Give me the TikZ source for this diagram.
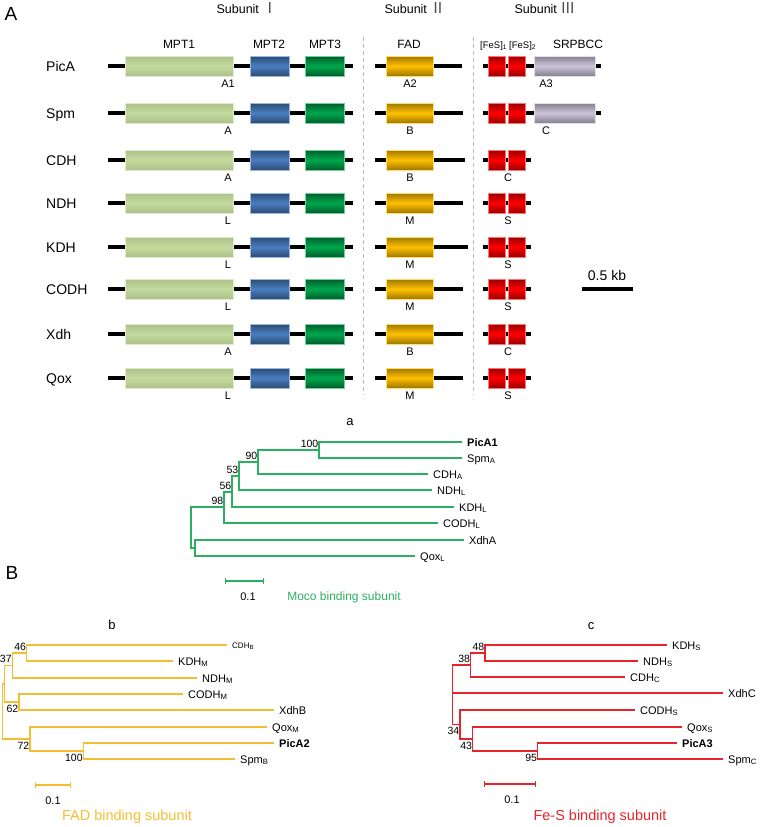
\documentclass[tikz,border=0pt]{standalone}
\usepackage{fontspec}
\setmainfont{Liberation Sans}
\newfontfamily\cjk{Noto Sans CJK SC}
\usetikzlibrary{arrows.meta}

\definecolor{mptlight}{HTML}{C4DB9E}
\definecolor{mptblue}{HTML}{4A7EC0}
\definecolor{mptgreen}{HTML}{00A84E}
\definecolor{fadyellow}{HTML}{FFC000}
\definecolor{fesred}{HTML}{FF0000}
\definecolor{srpbgray}{HTML}{CCC4DA}
\definecolor{mocogreen}{HTML}{2BAF62}
\definecolor{fadorange}{HTML}{F6BD33}
\definecolor{fesline}{HTML}{E8242A}

\newcommand{\subnum}[1]{{\cjk\fontsize{15}{17}\selectfont\color{black!70}#1}}

\tikzset{
  genebox/.style n args={2}{top color=#1!#2!black, bottom color=#1!#2!black,
    middle color=#1, draw=#1!55!white, line width=0.4pt},
  backbone/.style={line width=4pt, black},
  genename/.style={anchor=west, inner sep=0pt, text height=10pt, text depth=0pt,
    font=\fontsize{14}{16}\selectfont},
  domainname/.style={font=\fontsize{12}{14}\selectfont},
  fesname/.style={anchor=base west, inner sep=0pt, font=\fontsize{9.5}{11}\selectfont},
  chainname/.style={font=\fontsize{11}{13}\selectfont},
  subunithead/.style={anchor=base, inner sep=0pt, font=\fontsize{12.5}{15}\selectfont},
  panel/.style={font=\fontsize{19}{22}\selectfont},
  treetitle/.style={font=\fontsize{13}{15}\selectfont},
  treeline/.style={line width=1.5pt},
  leaf/.style={anchor=west, inner xsep=5pt, inner ysep=0pt, text height=8pt,
    text depth=0pt, text=black, font=\fontsize{11}{13}\selectfont},
  boot/.style={inner xsep=0.5pt, inner ysep=2.5pt, text=black,
    font=\fontsize{10.5}{12}\selectfont},
  scalebar/.style={line width=1.3pt, arrows={Bar[width=6pt]-Bar[width=6pt]}},
  scalelabel/.style={text=black, font=\fontsize{11}{13}\selectfont},
  treename/.style={font=\fontsize{14.5}{17}\selectfont}
}

\begin{document}
\begin{tikzpicture}[x=1pt, y=-1pt]
\useasboundingbox (0,0) rectangle (760,827);

% Panel A: domain layout of the three subunits
\node[panel] (panelA) at (11,14) {A};
\node[subunithead] (headI) at (247,13) {Subunit \subnum{Ⅰ}};
\node[subunithead] (headII) at (415,13) {Subunit \subnum{Ⅱ}};
\node[subunithead] (headIII) at (545,13) {Subunit \subnum{Ⅲ}};

\draw[dashed, gray!55, line width=0.9pt, dash pattern=on 4pt off 3pt] (363,37) -- (363,395);
\draw[dashed, gray!55, line width=0.9pt, dash pattern=on 4pt off 3pt] (473,37) -- (473,395);

% Domain names over the first row
\node[domainname] (nameMPT1) at (179,44) {MPT1};
\node[domainname] (nameMPT2) at (269,44) {MPT2};
\node[domainname] (nameMPT3) at (325,44) {MPT3};
\node[domainname] (nameFAD) at (409,44) {FAD};
\node[fesname] (nameFeS1) at (480,48) {[FeS]\textsubscript{1}};
\node[fesname] (nameFeS2) at (509,48) {[FeS]\textsubscript{2}};
\node[domainname] (nameSRP) at (578,44) {SRPBCC};

% One row per enzyme
\foreach \gene/\ypos/\lone/\ltwo/\lthree/\fadend/\longfes in
  {PicA/66/A1/A2/A3/462/1, Spm/113/A/B/C/463/1, CDH/160/A/B/C/465/0,
   NDH/203/L/M/S/463/0, KDH/247/L/M/S/468/0, CODH/289/L/M/S/463/0,
   Xdh/334/A/B/C/463/0, Qox/378/L/M/S/463/0}{
  \pgfmathsetmacro{\fesend}{\longfes==1 ? 601 : 531}
  \pgfmathsetmacro{\labthree}{\longfes==1 ? 546 : 508}
  \node[genename] (gene\gene) at (46,\ypos) {\gene};
  \draw[backbone] (108,\ypos) -- (353,\ypos);
  \draw[backbone] (375,\ypos) -- (\fadend,\ypos);
  \draw[backbone] (483,\ypos) -- (\fesend,\ypos);
  \path[genebox={mptlight}{88}] (125,\ypos-10) rectangle (233,\ypos+10);
  \path[genebox={mptblue}{60}] (250,\ypos-10) rectangle (289,\ypos+10);
  \path[genebox={mptgreen}{55}] (305,\ypos-10) rectangle (344,\ypos+10);
  \path[genebox={fadyellow}{62}] (386,\ypos-10) rectangle (433,\ypos+10);
  \path[genebox={fesred}{60}] (488,\ypos-10) rectangle (505,\ypos+10);
  \path[genebox={fesred}{60}] (508,\ypos-10) rectangle (525,\ypos+10);
  \ifnum\longfes=1
    \path[genebox={srpbgray}{65}] (534,\ypos-10) rectangle (595,\ypos+10);
  \fi
  \node[chainname] (chainI\gene) at (228,\ypos+18) {\lone};
  \node[chainname] (chainII\gene) at (410,\ypos+18) {\ltwo};
  \node[chainname] (chainIII\gene) at (\labthree,\ypos+18) {\lthree};
}

% Scale for the gene layout
\node[font=\fontsize{14}{16}\selectfont] (kbLabel) at (607,275) {0.5 kb};
\draw[backbone] (582,289) -- (633,289);

% Panel B
\node[panel] (panelB) at (12,573) {B};

% Tree a, Moco binding subunit
\node[treetitle] (titleA) at (350,422) {a};
\node[leaf] (taPicA) at (462,442) {\textbf{PicA1}};
\node[leaf] (taSpm) at (462,458) {Spm\textsubscript{A}};
\node[leaf] (taCDH) at (428,474) {CDH\textsubscript{A}};
\node[leaf] (taNDH) at (432,490) {NDH\textsubscript{L}};
\node[leaf] (taKDH) at (454,507) {KDH\textsubscript{L}};
\node[leaf] (taCODH) at (438,523) {CODH\textsubscript{L}};
\node[leaf] (taXdh) at (464,540) {XdhA};
\node[leaf] (taQox) at (415,556) {Qox\textsubscript{L}};
\coordinate (ta100) at (319,450);
\coordinate (ta90) at (258,462);
\coordinate (ta53) at (239,476);
\coordinate (ta56) at (232,492);
\coordinate (ta98) at (224,507);
\coordinate (taXQ) at (195,548);
\coordinate (taRoot) at (191,527.5);
\draw[treeline, mocogreen] (ta100) |- (taPicA.west) (ta100) |- (taSpm.west)
  (ta90) |- (ta100) (ta90) |- (taCDH.west)
  (ta53) |- (ta90) (ta53) |- (taNDH.west)
  (ta56) |- (ta53) (ta56) |- (taKDH.west)
  (ta98) |- (ta56) (ta98) |- (taCODH.west)
  (taXQ) |- (taXdh.west) (taXQ) |- (taQox.west)
  (taRoot) |- (ta98) (taRoot) |- (taXQ);
\node[boot, anchor=south east] (ta100lab) at (ta100) {100};
\node[boot, anchor=south east] (ta90lab) at (ta90) {90};
\node[boot, anchor=south east] (ta53lab) at (ta53) {53};
\node[boot, anchor=south east] (ta56lab) at (ta56) {56};
\node[boot, anchor=south east] (ta98lab) at (ta98) {98};
\coordinate (taBarL) at (225,581);
\coordinate (taBarR) at (264,581);
\draw[scalebar, mocogreen] (taBarL) -- (taBarR);
\node[scalelabel] (taBarLab) at (248,597) {0.1};
\node[text=mocogreen, font=\fontsize{12}{14}\selectfont] (taName) at (344,597) {Moco binding subunit};

% Tree b, FAD binding subunit
\node[treetitle] (titleB) at (112,625) {b};
\node[leaf, font=\fontsize{8}{10}\selectfont, text height=6pt] (tbCDH) at (227,645) {CDH\textsubscript{B}};
\node[leaf] (tbKDH) at (173,661) {KDH\textsubscript{M}};
\node[leaf] (tbNDH) at (197,678) {NDH\textsubscript{M}};
\node[leaf] (tbCODH) at (183,694) {CODH\textsubscript{M}};
\node[leaf] (tbXdh) at (274,710) {XdhB};
\node[leaf] (tbQox) at (267,727) {Qox\textsubscript{M}};
\node[leaf] (tbPicA) at (274,743) {\textbf{PicA2}};
\node[leaf] (tbSpm) at (235,759) {Spm\textsubscript{B}};
\coordinate (tb46) at (26.7,653);
\coordinate (tb37) at (12.3,665.5);
\coordinate (tb62) at (19,702);
\coordinate (tb100) at (83.3,751);
\coordinate (tb72) at (30,739);
\coordinate (tbIn) at (4.5,683.75);
\coordinate (tbRoot) at (2.5,711.4);
\draw[treeline, fadorange] (tb46) |- (tbCDH.west) (tb46) |- (tbKDH.west)
  (tb37) |- (tb46) (tb37) |- (tbNDH.west)
  (tb62) |- (tbCODH.west) (tb62) |- (tbXdh.west)
  (tb100) |- (tbPicA.west) (tb100) |- (tbSpm.west)
  (tb72) |- (tbQox.west) (tb72) |- (tb100)
  (tbIn) |- (tb37) (tbIn) |- (tb62)
  (tbRoot) |- (tbIn) (tbRoot) |- (tb72);
\node[boot, anchor=south east] (tb46lab) at (tb46) {46};
\node[boot, anchor=south east] (tb37lab) at (tb37) {37};
\node[boot, anchor=north east] (tb62lab) at (tb62) {62};
\node[boot, anchor=north east] (tb72lab) at (tb72) {72};
\node[boot, anchor=north east] (tb100lab) at (tb100) {100};
\coordinate (tbBarL) at (35,785);
\coordinate (tbBarR) at (71,785);
\draw[scalebar, fadorange] (tbBarL) -- (tbBarR);
\node[scalelabel] (tbBarLab) at (53,801) {0.1};
\node[treename, text=fadorange] (tbName) at (127,817) {FAD binding subunit};

% Tree c, Fe-S binding subunit
\node[treetitle] (titleC) at (591,626) {c};
\node[leaf] (tcKDH) at (667,645) {KDH\textsubscript{S}};
\node[leaf] (tcNDH) at (638,661) {NDH\textsubscript{S}};
\node[leaf] (tcCDH) at (625,677) {CDH\textsubscript{C}};
\node[leaf] (tcXdh) at (723,693) {XdhC};
\node[leaf] (tcCODH) at (635,710) {CODH\textsubscript{S}};
\node[leaf] (tcQox) at (682,727) {Qox\textsubscript{S}};
\node[leaf] (tcPicA) at (677,743) {\textbf{PicA3}};
\node[leaf] (tcSpm) at (723,759) {Spm\textsubscript{C}};
\coordinate (tc48) at (485,653);
\coordinate (tc38) at (470.7,665);
\coordinate (tc95) at (537.7,751);
\coordinate (tc43) at (472.7,739);
\coordinate (tc34) at (460,724.5);
\coordinate (tcRoot) at (452.3,694.75);
\draw[treeline, fesline] (tc48) |- (tcKDH.west) (tc48) |- (tcNDH.west)
  (tc38) |- (tc48) (tc38) |- (tcCDH.west)
  (tc95) |- (tcPicA.west) (tc95) |- (tcSpm.west)
  (tc43) |- (tcQox.west) (tc43) |- (tc95)
  (tc34) |- (tcCODH.west) (tc34) |- (tc43)
  (tcRoot) |- (tc38) (tcRoot) |- (tcXdh.west) (tcRoot) |- (tc34);
\node[boot, anchor=south east] (tc48lab) at (tc48) {48};
\node[boot, anchor=south east] (tc38lab) at (tc38) {38};
\node[boot, anchor=north east] (tc34lab) at (tc34) {34};
\node[boot, anchor=north east] (tc43lab) at (tc43) {43};
\node[boot, anchor=north east] (tc95lab) at (tc95) {95};
\coordinate (tcBarL) at (484,784);
\coordinate (tcBarR) at (536,784);
\draw[scalebar, fesline] (tcBarL) -- (tcBarR);
\node[scalelabel] (tcBarLab) at (512,800) {0.1};
\node[treename, text=fesline] (tcName) at (600,817) {Fe-S binding subunit};
\end{tikzpicture}
\end{document}
